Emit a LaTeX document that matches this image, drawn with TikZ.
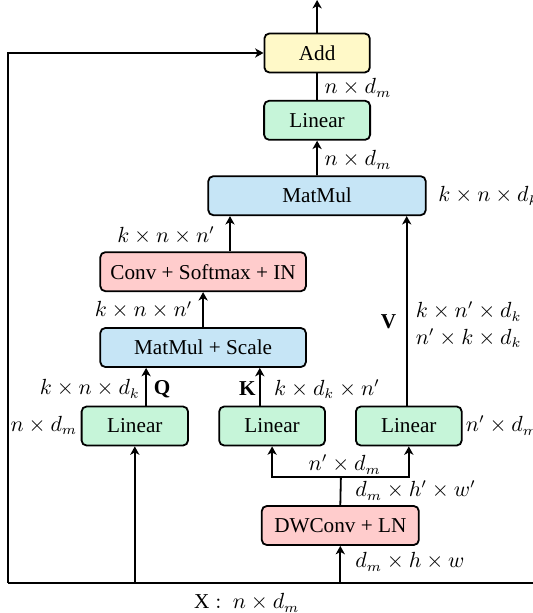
\documentclass[tikz,border=0pt]{standalone}
\usepackage{fontspec}
\setmainfont{Liberation Serif}
\usetikzlibrary{arrows.meta,calc}
\definecolor{addc}{HTML}{FFF9C8}
\definecolor{linc}{HTML}{C6F5D9}
\definecolor{mmc}{HTML}{C6E5F6}
\definecolor{convc}{HTML}{FFCCCC}
\begin{document}
\begin{tikzpicture}[x=0.5pt,y=-0.5pt,
  box/.style={draw,line width=0.9pt,rounded corners=2.5pt,minimum height=19.5pt,inner sep=0pt,font=\fontsize{10.6}{12}\selectfont},
  arr/.style={line width=0.9pt,-{Stealth[length=4.2pt,width=4.6pt,inset=1.2pt]}},
  ln/.style={line width=0.9pt},
  lab/.style={inner sep=0pt,font=\fontsize{10.6}{12}\selectfont}]
\useasboundingbox (0,0) rectangle (533,613);
% boxes
\node[box,fill=addc,minimum width=52.7pt] (add) at (317.1,53) {Add};
\node[box,fill=linc,minimum width=53pt] (lin0) at (317.1,120.3) {Linear};
\node[box,fill=mmc,minimum width=108.7pt] (mm) at (317,195.7) {MatMul};
\node[box,fill=convc,minimum width=102.8pt] (conv) at (203.1,271.7) {Conv + Softmax + IN};
\node[box,fill=mmc,minimum width=102.8pt] (mms) at (203.1,347.5) {MatMul + Scale};
\node[box,fill=linc,minimum width=53.2pt] (lin1) at (134.8,426) {Linear};
\node[box,fill=linc,minimum width=52.9pt] (lin2) at (272.1,426) {Linear};
\node[box,fill=linc,minimum width=52.9pt] (lin3) at (408.8,426) {Linear};
\node[box,fill=convc,minimum width=78.5pt] (dw) at (340.3,525.5) {DWConv + LN};
% coordinates
\coordinate (top) at (317.1,0);
\coordinate (bl) at (8.3,582.7);
\coordinate (br) at (533,582.7);
\coordinate (sp) at (340.9,476.7);
% connectors
\draw[arr] (add.north) -- (top);
\draw[ln] (bl) -- (br);
\draw[arr] (bl) |- (add.west);
\draw[ln] (lin0.north) -- (add.south);
\draw[arr] (mm.north) -- (lin0.south);
\draw[arr] ([xshift=13.45pt]conv.north) -- ([xshift=13.45pt]conv.north |- mm.south);
\draw[arr] (mms.north) -- (conv.south);
\draw[arr] ([xshift=5.65pt]lin1.north) -- ([xshift=5.65pt]lin1.north |- mms.south);
\draw[arr] ([xshift=-6.15pt]lin2.north) -- ([xshift=-6.15pt]lin2.north |- mms.south);
\draw[arr] ([xshift=-1.05pt]lin3.north) -- ([xshift=-1.05pt]lin3.north |- mm.south);
\draw[arr] (lin1.south |- bl) -- (lin1.south);
\draw[arr] (dw.south |- bl) -- (dw.south);
\draw[ln] (dw.north) -- (sp);
\draw[arr] (sp) -| (lin2.south);
\draw[arr] (sp) -| (lin3.south);
% labels
\node[lab,anchor=west] (l1) at (324.3,88) {$n\times d_m$};
\node[lab,anchor=west] (l2) at (324.3,160) {$n\times d_m$};
\node[lab,anchor=west] (l3) at (438,196) {$k\times n\times d_k$};
\node[lab,anchor=east] (l4) at (215.2,235.5) {$k\times n\times n'$};
\node[lab,anchor=east] (l5) at (192.7,310) {$k\times n\times n'$};
\node[lab] (v) at (388.5,322) {\textbf{V}};
\node[lab,anchor=west] (l6) at (415.4,311.7) {$k\times n'\times d_k$};
\node[lab,anchor=west] (l7) at (415.4,338) {$n'\times k\times d_k$};
\node[lab,anchor=east] (l8) at (140.2,389) {$k\times n\times d_k$};
\node[lab] (q) at (162.1,389) {\textbf{Q}};
\node[lab] (k) at (247.3,389) {\textbf{K}};
\node[lab,anchor=west] (l9) at (273.8,389) {$k\times d_k\times n'$};
\node[lab,anchor=east] (l10) at (77.5,425.5) {$n\times d_m$};
\node[lab,anchor=west] (l11) at (465.5,425.5) {$n'\times d_m$};
\node[lab] (l12) at (344.7,464.5) {$n'\times d_m$};
\node[lab,anchor=west] (l13) at (355,490.5) {$d_m\times h'\times w'$};
\node[lab,anchor=west] (l14) at (355,562) {$d_m\times h\times w$};
\node[lab] (x) at (246.7,603) {$\mathrm{X}:\ n\times d_m$};
\end{tikzpicture}
\end{document}
